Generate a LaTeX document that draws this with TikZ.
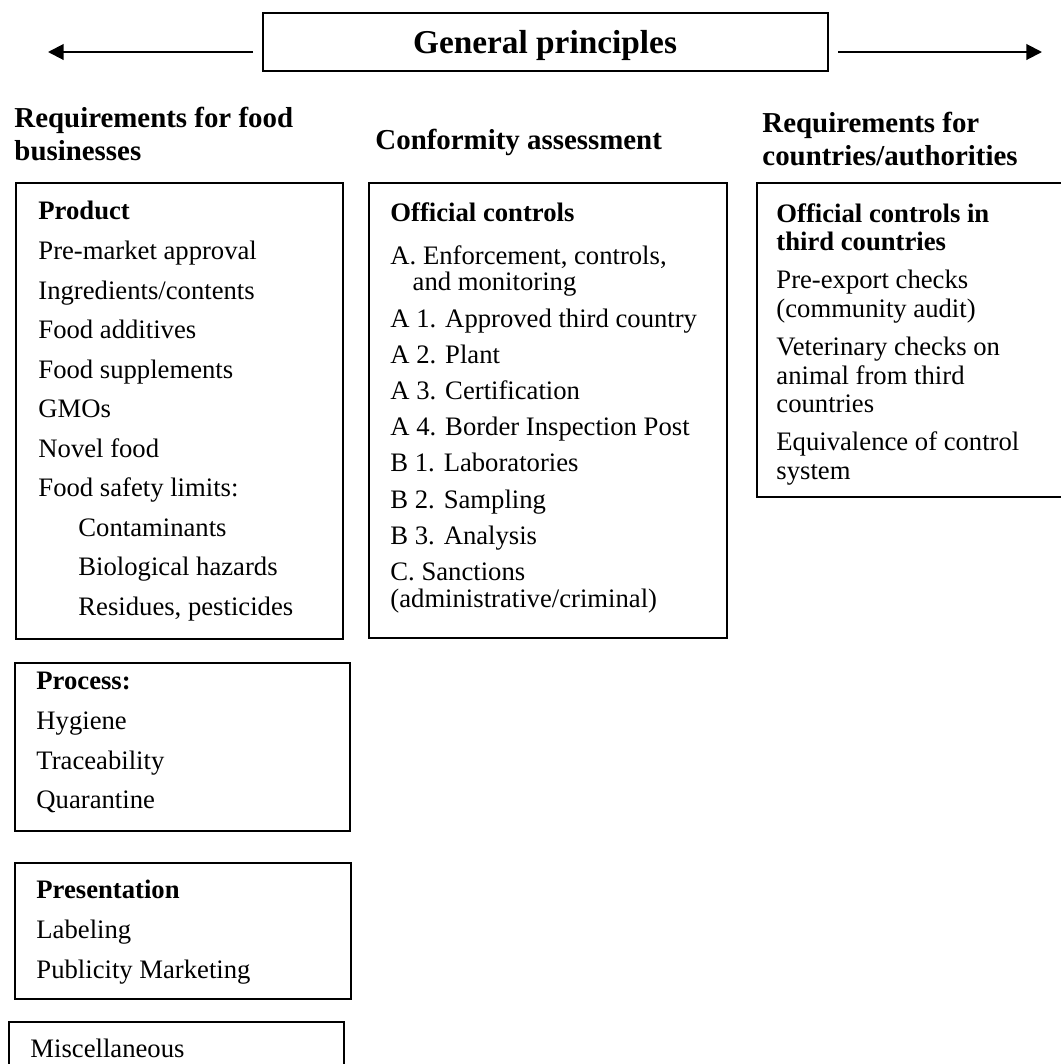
\documentclass[tikz,border=0pt]{standalone}
\usepackage{fontspec}
\setmainfont{Liberation Serif}
\usetikzlibrary{arrows.meta,fit}

\tikzset{
  frame/.style={draw, line width=0.9pt, inner sep=0pt},
  colhead/.style={anchor=north west, align=left, inner sep=0pt, font=\bfseries\fontsize{13}{14.9}\selectfont},
  body/.style={anchor=north west, align=left, inner sep=0pt, font=\fontsize{12}{17.8}\selectfont},
  wrapped/.style={anchor=north west, align=left, inner sep=0pt, font=\fontsize{12}{12.9}\selectfont},
  arr/.style={-{Triangle[length=7pt,width=7pt]}, line width=0.9pt}
}

\begin{document}
\begin{tikzpicture}[x=0.45pt,y=-0.45pt]
  \useasboundingbox (0,0) rectangle (1061,1064);
  \clip (0,0) rectangle (1061,1064);

  % top box and arrows
  \node[frame, fit={(263,13) (828,71)}] (gpbox) {};
  \node[anchor=base, inner sep=0pt, font=\bfseries\fontsize{15}{18}\selectfont] (gp) at (545,53) {General principles};
  \coordinate (lstart) at (253,52);
  \coordinate (ltip) at (48,52);
  \coordinate (rstart) at (838,52);
  \coordinate (rtip) at (1042,52);
  \draw[arr] (lstart) -- (ltip);
  \draw[arr] (rstart) -- (rtip);

  % column headings
  \node[colhead] (fbhead) at (14,107) {Requirements for food\\businesses};
  \node[colhead] (cahead) at (375,129) {Conformity assessment};
  \node[colhead] (cohead) at (762,112) {Requirements for\\countries/authorities};

  % food businesses
  \node[frame, fit={(16,183) (343,639)}] (prodbox) {};
  \node[body] (prod) at (38,201) {\textbf{Product}\\
    Pre-market approval\\
    Ingredients/contents\\
    Food additives\\
    Food supplements\\
    GMOs\\
    Novel food\\
    Food safety limits:\\
    \hspace*{18pt}Contaminants\\
    \hspace*{18pt}Biological hazards\\
    \hspace*{18pt}Residues, pesticides};

  \node[frame, fit={(15,663) (350,831)}] (procbox) {};
  \node[body] (proc) at (36,672) {\textbf{Process:}\\
    Hygiene\\
    Traceability\\
    Quarantine};

  \node[frame, fit={(15,863) (351,999)}] (presbox) {};
  \node[body] (pres) at (36,880) {\textbf{Presentation}\\
    Labeling\\
    Publicity Marketing};

  \node[frame, fit={(9,1022) (344,1090)}] (miscbox) {};
  \node[body] (misc) at (30,1039) {Miscellaneous};

  % conformity assessment
  \node[frame, fit={(369,183) (727,638)}] (ocbox) {};
  \node[wrapped, font=\fontsize{12}{12}\selectfont] (oc) at (390,202) {\textbf{Official controls}\\[7.3pt]
    A. Enforcement, controls,\\
    \hspace*{10pt}and monitoring\\[4.3pt]
    A 1. Approved third country\\[4.3pt]
    A 2. Plant\\[4.3pt]
    A 3. Certification\\[4.3pt]
    A 4. Border Inspection Post\\[4.3pt]
    B 1. Laboratories\\[4.3pt]
    B 2. Sampling\\[4.3pt]
    B 3. Analysis\\[4.3pt]
    C. Sanctions\\
    (administrative/criminal)};

  % countries/authorities
  \node[frame, fit={(757,183) (1090,497)}] (tcbox) {};
  \node[wrapped] (tc) at (776,203) {\textbf{Official controls in}\\
    \textbf{third countries}\\[4.2pt]
    Pre-export checks\\
    (community audit)\\[4.2pt]
    Veterinary checks on\\
    animal from third\\
    countries\\[4.2pt]
    Equivalence of control\\
    system};
\end{tikzpicture}
\end{document}
